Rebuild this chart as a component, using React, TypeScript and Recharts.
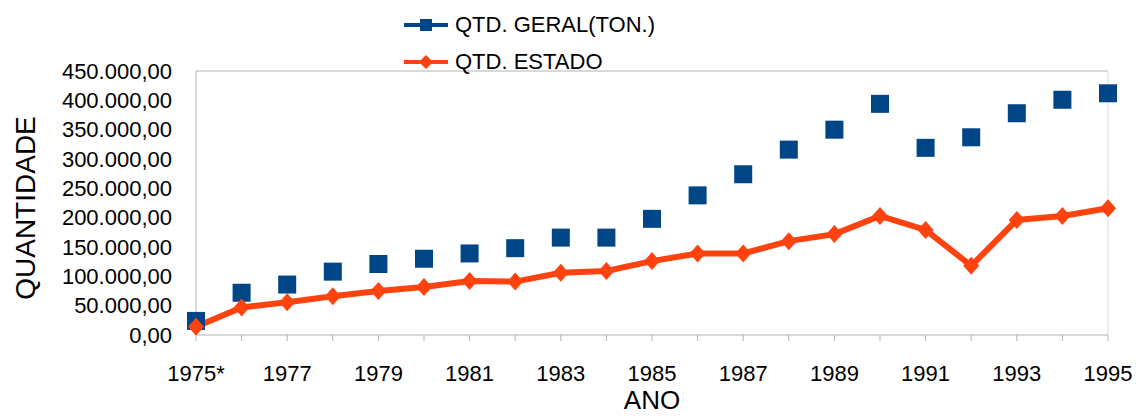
import React from "react";
import {
  Legend,
  Line,
  LineChart,
  ReferenceLine,
  XAxis,
  YAxis,
} from "recharts";

const years = [
  "1975*", "1976", "1977", "1978", "1979", "1980", "1981", "1982", "1983", "1984",
  "1985", "1986", "1987", "1988", "1989", "1990", "1991", "1992", "1993", "1994", "1995",
];
const geral = [
  24000, 72000, 86000, 108000, 121000, 130000, 139000, 148000, 166000, 166000,
  198000, 238000, 274000, 316000, 350000, 394000, 319000, 337000, 378000, 401000, 412000,
];
const estado = [
  14000, 47000, 56000, 66000, 75000, 82000, 92000, 91000, 106000, 109000,
  126000, 139000, 139000, 160000, 172000, 203000, 179000, 118000, 196000, 203000, 216000,
];
const yTicks = [0, 50000, 100000, 150000, 200000, 250000, 300000, 350000, 400000, 450000];

const BLUE = "#004586";
const ORANGE = "#ff420e";
const FONT = '"Liberation Sans", Arial, sans-serif';

const data = years.map((ano, i) => ({ ano, geral: geral[i], estado: estado[i] }));

// 450000 -> "450.000,00"
const fmt = (v: number) =>
  String(Math.round(v)).replace(/\B(?=(\d{3})+(?!\d))/g, ".") + ",00";

const Square = (props: any) => {
  const { cx, cy } = props;
  if (cx == null || cy == null) return null;
  return <rect x={cx - 9} y={cy - 9} width={18} height={18} fill={BLUE} />;
};

const Diamond = (props: any) => {
  const { cx, cy } = props;
  if (cx == null || cy == null) return null;
  return (
    <path
      d={`M${cx},${cy - 9} L${cx + 8},${cy} L${cx},${cy + 9} L${cx - 8},${cy} Z`}
      fill={ORANGE}
    />
  );
};

const XTick = (props: any) => {
  const { x, y, payload, index } = props;
  if (index % 2 !== 0) return null;
  return (
    <text x={x} y={y} dy={16} textAnchor="middle" fontSize={22} fontFamily={FONT} fill="#000">
      {payload.value}
    </text>
  );
};

const LegendBox = () => {
  const items = [
    { name: "QTD. GERAL(TON.)", color: BLUE, shape: "square" },
    { name: "QTD. ESTADO", color: ORANGE, shape: "diamond" },
  ];
  return (
    <div style={{ fontFamily: FONT, fontSize: 22 }}>
      {items.map((it) => (
        <div key={it.name} style={{ display: "flex", alignItems: "center", height: 37 }}>
          <svg width={51} height={20}>
            <line x1={0} y1={10} x2={44} y2={10} stroke={it.color} strokeWidth={4} />
            {it.shape === "square" ? (
              <rect x={16} y={4} width={12} height={12} fill={it.color} />
            ) : (
              <path d="M22,3 L29,10 L22,17 L15,10 Z" fill={it.color} />
            )}
          </svg>
          <span style={{ color: "#000", whiteSpace: "nowrap" }}>{it.name}</span>
        </div>
      ))}
    </div>
  );
};

const App = () => {
  return (
    <div style={{ position: "absolute", left: 0, top: 0, background: "#fff" }}>
      <LineChart
        width={1142}
        height={416}
        data={data}
        margin={{ top: 71, right: 34, left: 0, bottom: 0 }}
      >
        <XAxis
          dataKey="ano"
          interval={0}
          height={81}
          tickSize={6}
          tickMargin={24}
          stroke="#b3b3b3"
          tick={<XTick />}
          label={{
            value: "ANO",
            position: "insideBottom",
            offset: 7,
            fontSize: 26,
            fontFamily: FONT,
            fill: "#000",
          }}
        />
        <YAxis
          domain={[0, 450000]}
          ticks={yTicks}
          interval={0}
          width={196}
          tickLine={false}
          tickSize={6}
          tickMargin={18}
          stroke="#b3b3b3"
          tickFormatter={fmt}
          tick={{ fontSize: 22, fontFamily: FONT, fill: "#000" }}
          label={{
            content: (p: any) => {
              const vb = p.viewBox;
              const cx = 25;
              const cy = vb.y + vb.height / 2 + 5;
              return (
                <text
                  x={cx}
                  y={cy}
                  transform={`rotate(-90, ${cx}, ${cy})`}
                  textAnchor="middle"
                  dominantBaseline="central"
                  fontSize={28}
                  fontFamily={FONT}
                  fill="#000"
                >
                  QUANTIDADE
                </text>
              );
            },
          }}
        />
        <ReferenceLine y={450000} stroke="#b3b3b3" />
        <ReferenceLine x="1995" stroke="#dddddd" />
        <Legend
          layout="horizontal"
          verticalAlign="middle"
          align="center"
          content={<LegendBox />}
          wrapperStyle={{ top: 6, left: 404, width: 320 }}
        />
        <Line
          type="linear"
          dataKey="geral"
          name="QTD. GERAL(TON.)"
          stroke="none"
          dot={<Square />}
          activeDot={false}
          legendType="none"
          isAnimationActive={false}
        />
        <Line
          type="linear"
          dataKey="estado"
          name="QTD. ESTADO"
          stroke={ORANGE}
          strokeWidth={6}
          dot={<Diamond />}
          activeDot={false}
          isAnimationActive={false}
        />
      </LineChart>
    </div>
  );
};

export default App;
